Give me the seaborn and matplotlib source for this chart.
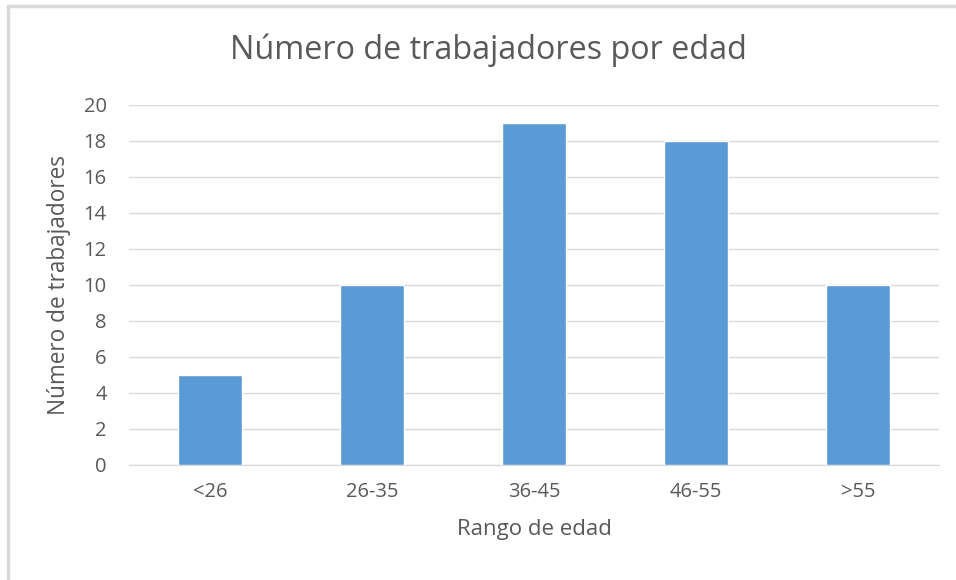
import matplotlib
matplotlib.use('Agg')
import matplotlib.pyplot as plt
import seaborn as sns
import pandas as pd
from matplotlib.lines import Line2D

# datos
rangos = ['<26', '26-35', '36-45', '46-55', '>55']
trabajadores = [5, 10, 19, 18, 10]

df = pd.DataFrame({'rango': rangos, 'n': trabajadores})

sns.set_style('white')
plt.rcParams['font.family'] = ['Open Sans', 'DejaVu Sans']

gris = '#595959'

fig = plt.figure(figsize=(9.56, 5.8), dpi=100)
ax = fig.add_axes([129 / 956, 1 - 465 / 580, 810 / 956, 360 / 580])

sns.barplot(data=df, x='rango', y='n', color='#5B9BD5', width=0.4,
            saturation=1, ax=ax, zorder=3)

ax.set_ylim(0, 20)
ax.set_yticks(range(0, 21, 2))
ax.set_xlim(-0.5, 4.5)
ax.grid(axis='y', color='#D9D9D9', linewidth=1, zorder=0)
for s in ['top', 'right', 'left']:
    ax.spines[s].set_visible(False)
ax.spines['bottom'].set_color('#D9D9D9')
ax.spines['bottom'].set_zorder(0)
ax.tick_params(axis='both', length=0, labelsize=14.5, labelcolor=gris)
ax.tick_params(axis='x', pad=12)
ax.tick_params(axis='y', pad=16)

fig.text(488 / 956, 1 - 50 / 580, 'Número de trabajadores por edad',
         fontsize=23.3, color=gris, ha='center', va='center')
ax.set_xlabel('Rango de edad', fontsize=16, color=gris)
ax.set_ylabel('Número de trabajadores', fontsize=16.3, color=gris)
ax.xaxis.set_label_coords(0.5, -0.15)
ax.yaxis.set_label_coords(-0.072, 0.5)

# marco gris del gráfico
fig.add_artist(Line2D([8 / 956, 1], [1 - 6 / 580, 1 - 6 / 580],
                      transform=fig.transFigure, color='#D9D9D9', linewidth=2.5))
fig.add_artist(Line2D([8 / 956, 8 / 956], [0, 1 - 6 / 580],
                      transform=fig.transFigure, color='#D9D9D9', linewidth=2.5))

fig.savefig('out.png', dpi=100, facecolor='white')
